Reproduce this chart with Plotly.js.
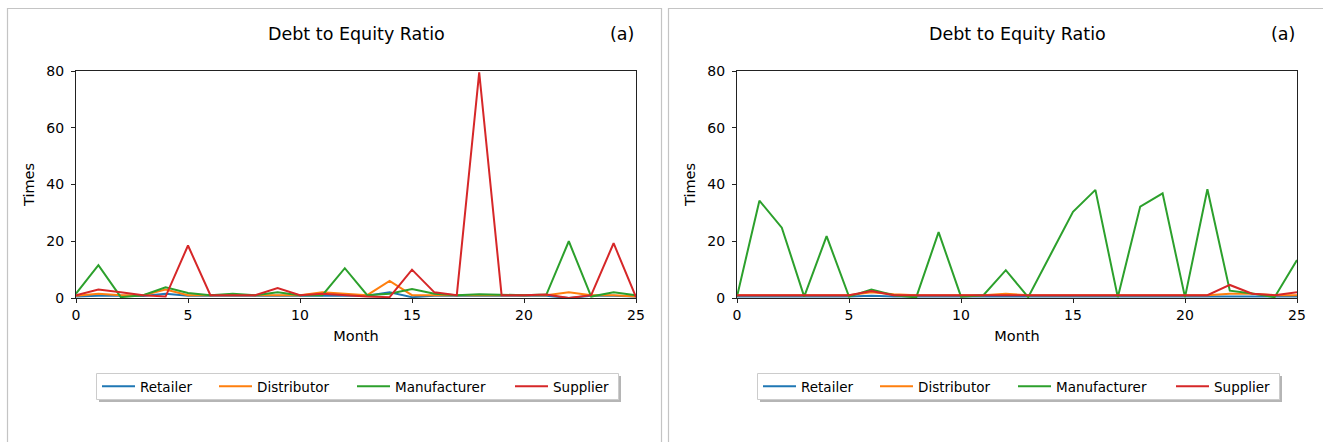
<!DOCTYPE html>
<html>
<head>
<meta charset="utf-8">
<script src="https://cdn.plot.ly/plotly-3.0.1.min.js"></script>
<style>html,body{margin:0;padding:0;background:#fff;}#chart{width:1323px;height:442px;}</style>
</head>
<body>
<div id="chart"></div>
<script>
const months = [0,1,2,3,4,5,6,7,8,9,10,11,12,13,14,15,16,17,18,19,20,21,22,23,24,25];
const seriesNames = ["Retailer","Distributor","Manufacturer","Supplier"];
const seriesColors = ["#1f77b4","#ff7f0e","#2ca02c","#d62728"];

// Left panel
const retailerA     = [0.5,0.8,0.8,0.7,1.5,0.8,0.8,0.8,0.8,0.8,0.8,0.8,0.8,0.8,2.0,0.3,0.8,0.8,0.8,0.8,0.8,0.8,0.0,0.8,0.8,0.5];
const distributorA  = [0.8,1.5,1.0,1.0,3.0,1.0,1.0,1.0,1.0,1.0,1.0,2.0,1.5,1.0,6.0,1.0,1.0,1.0,1.0,1.0,1.0,1.0,2.0,1.0,1.0,0.5];
const manufacturerA = [1.5,11.6,0.3,1.0,3.8,1.8,1.0,1.5,1.0,2.0,1.0,1.0,10.5,1.0,1.5,3.2,1.5,1.0,1.3,1.2,1.0,1.2,20.0,0.5,2.0,1.0];
const supplierA     = [1.0,3.0,2.0,1.0,0.5,18.5,1.0,1.0,1.0,3.5,1.0,1.5,1.0,0.5,0.3,10.0,2.0,1.0,79.5,1.0,1.0,1.2,0.0,1.0,19.3,0.3];

// Right panel
const retailerB     = [0.5,0.5,0.5,0.5,0.5,0.5,0.8,0.5,0.5,0.5,0.5,0.5,0.5,0.5,0.5,0.5,0.5,0.5,0.5,0.5,0.5,0.5,0.5,0.5,0.5,0.5];
const distributorB  = [1.0,1.0,1.0,1.0,1.0,1.0,2.0,1.3,1.0,1.0,1.0,1.0,1.5,1.0,1.0,1.0,1.0,1.0,1.0,1.0,1.0,1.0,1.5,1.5,1.0,1.0];
const manufacturerB = [0.5,34.3,24.8,0.5,21.8,0.5,3.0,1.0,0.2,23.2,0.5,1.0,9.8,0.3,15.3,30.4,38.1,0.3,32.2,36.9,0.3,38.3,2.6,1.6,0.3,13.4];
const supplierB     = [1.0,1.0,1.0,1.0,1.0,1.0,2.5,1.0,1.0,1.0,1.0,1.0,1.0,1.0,1.0,1.0,1.0,1.0,1.0,1.0,1.0,1.0,4.6,1.5,1.0,2.0];

const titleText = "Debt to Equity Ratio";
const panelTag = "(a)";
const xTitle = "Month";
const yTitle = "Times";
const xTicks = [0,5,10,15,20,25];
const yTicks = [0,20,40,60,80];

const W = 1323, H = 442;
const px = v => v / W;
const py = v => 1 - v / H;
const FONT = "DejaVu Sans";
const PANEL_SHIFT = 661;
const legendLineStarts = [102, 219, 357, 515];

const dataA = [retailerA, distributorA, manufacturerA, supplierA];
const dataB = [retailerB, distributorB, manufacturerB, supplierB];

const traces = [];
const layoutLegends = {};
[dataA, dataB].forEach((set, p) => {
  set.forEach((ys, i) => {
    const k = p * 4 + i + 1;
    const lname = k === 1 ? "legend" : "legend" + k;
    traces.push({
      x: months, y: ys, type: "scatter", mode: "lines", name: seriesNames[i],
      line: {color: seriesColors[i], width: 2},
      xaxis: p === 0 ? "x" : "x2", yaxis: p === 0 ? "y" : "y2", legend: lname
    });
    layoutLegends[lname] = {
      x: px(legendLineStarts[i] + p * PANEL_SHIFT - 5), xanchor: "left",
      y: py(386.5), yanchor: "middle", orientation: "h",
      bgcolor: "rgba(0,0,0,0)", borderwidth: 0, itemwidth: 33,
      font: {family: FONT, size: 13.5, color: "#000"}
    };
  });
});

function axisCommon() {
  return {
    showgrid: false, zeroline: false, showline: true, mirror: true, linecolor: "#222", linewidth: 1,
    ticks: "outside", ticklen: 4, tickcolor: "#222", tickfont: {family: FONT, size: 14, color: "#000"},
    automargin: false, fixedrange: true
  };
}
function xAxis(domain, anchor) {
  return Object.assign(axisCommon(), {
    domain: domain, anchor: anchor, range: [0, 25], tickvals: xTicks, ticktext: xTicks.map(String),
    title: {text: xTitle, font: {family: FONT, size: 14.5, color: "#000"}, standoff: 9}
  });
}
function yAxis(domain, anchor) {
  return Object.assign(axisCommon(), {
    domain: domain, anchor: anchor, range: [0, 80], tickvals: yTicks, ticktext: yTicks.map(String),
    ticklabelstandoff: 4,
    title: {text: yTitle, font: {family: FONT, size: 14.5, color: "#000"}, standoff: 8}
  });
}

const yDom = [py(298), py(71)];

function legendFrame(shift) {
  return [
    {type: "rect", xref: "paper", yref: "paper", x0: px(99 + shift), x1: px(621 + shift), y0: py(402), y1: py(376), line: {width: 0}, fillcolor: "rgba(120,120,120,0.55)", layer: "above"},
    {type: "rect", xref: "paper", yref: "paper", x0: px(96.5 + shift), x1: px(618.5 + shift), y0: py(399.5), y1: py(373.5), line: {color: "#cccccc", width: 1}, fillcolor: "#ffffff", layer: "above"}
  ];
}

const layout = Object.assign({
  width: W, height: H,
  margin: {l: 0, r: 0, t: 0, b: 0, autoexpand: false},
  paper_bgcolor: "#ffffff", plot_bgcolor: "#ffffff",
  showlegend: true,
  xaxis: xAxis([px(76), px(636)], "y"),
  yaxis: yAxis(yDom, "x"),
  xaxis2: xAxis([px(737), px(1297)], "y2"),
  yaxis2: yAxis(yDom, "x2"),
  annotations: [
    {text: titleText, xref: "paper", yref: "paper", x: px(356), y: py(34), xanchor: "center", yanchor: "middle", showarrow: false, font: {family: FONT, size: 17.5, color: "#000"}},
    {text: panelTag, xref: "paper", yref: "paper", x: px(636), y: py(34), xanchor: "right", yanchor: "middle", showarrow: false, font: {family: FONT, size: 17.5, color: "#000"}},
    {text: titleText, xref: "paper", yref: "paper", x: px(1017), y: py(34), xanchor: "center", yanchor: "middle", showarrow: false, font: {family: FONT, size: 17.5, color: "#000"}},
    {text: panelTag, xref: "paper", yref: "paper", x: px(1297), y: py(34), xanchor: "right", yanchor: "middle", showarrow: false, font: {family: FONT, size: 17.5, color: "#000"}}
  ],
  shapes: [
    {type: "rect", xref: "paper", yref: "paper", x0: px(7.5), x1: px(661.5), y0: -0.1, y1: py(8.5), line: {color: "#c4c4c4", width: 1.2}, layer: "below"},
    {type: "rect", xref: "paper", yref: "paper", x0: px(668.5), x1: 1.1, y0: -0.1, y1: py(8.5), line: {color: "#c4c4c4", width: 1.2}, layer: "below"}
  ].concat(legendFrame(0), legendFrame(PANEL_SHIFT))
}, layoutLegends);

Plotly.newPlot("chart", traces, layout, {displayModeBar: false, staticPlot: true});
</script>
</body>
</html>
